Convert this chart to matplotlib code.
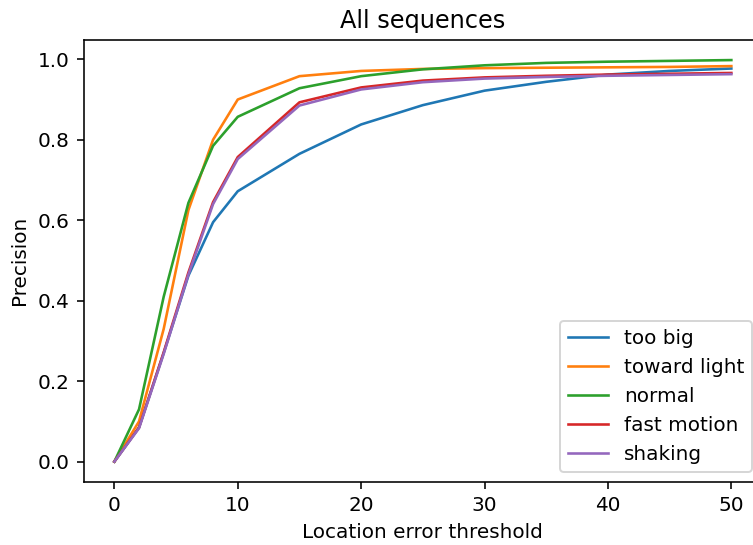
import matplotlib
matplotlib.use("Agg")
import matplotlib.pyplot as plt

thresholds = [0, 2, 4, 6, 8, 10, 15, 20, 25, 30, 35, 40, 45, 50]
too_big = [0, 0.085, 0.27, 0.462, 0.595, 0.672, 0.765, 0.838, 0.886, 0.922, 0.944, 0.962, 0.971, 0.977]
toward_light = [0, 0.10, 0.33, 0.625, 0.80, 0.90, 0.958, 0.971, 0.976, 0.978, 0.979, 0.980, 0.981, 0.983]
normal = [0, 0.13, 0.41, 0.643, 0.785, 0.857, 0.928, 0.958, 0.975, 0.985, 0.991, 0.994, 0.996, 0.998]
fast_motion = [0, 0.085, 0.272, 0.47, 0.645, 0.757, 0.893, 0.93, 0.947, 0.955, 0.959, 0.962, 0.964, 0.966]
shaking = [0, 0.083, 0.268, 0.465, 0.64, 0.752, 0.885, 0.925, 0.943, 0.952, 0.956, 0.959, 0.961, 0.963]

series = [
    ("too big", too_big),
    ("toward light", toward_light),
    ("normal", normal),
    ("fast motion", fast_motion),
    ("shaking", shaking),
]

dpi = 144
fig = plt.figure(figsize=(753 / dpi, 545 / dpi), dpi=dpi)
ax = fig.add_axes([83.5 / 753, 1 - 481.7 / 545, (762.2 - 83.5) / 753, (481.7 - 40) / 545])
for name, vals in series:
    ax.plot(thresholds, vals, label=name, linewidth=1.3)
ax.set_title("All sequences")
ax.set_xlabel("Location error threshold")
ax.set_ylabel("Precision")
ax.legend(loc="lower right")
fig.savefig("out.png", dpi=dpi)
